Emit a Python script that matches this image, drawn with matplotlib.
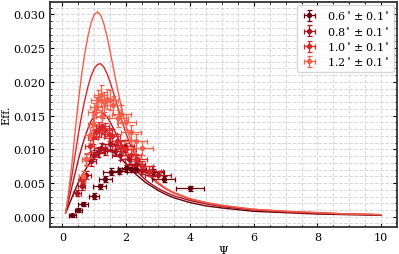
import matplotlib
matplotlib.use("Agg")
from matplotlib import pyplot as plt
from matplotlib.ticker import MultipleLocator

plt.rcParams['font.family'] = 'DejaVu Serif'
plt.rcParams['mathtext.fontset'] = 'dejavuserif'
plt.rcParams['font.size'] = 8

labels = [r"0.6$^\circ\pm0.1^\circ$", r"0.8$^\circ\pm0.1^\circ$",
          r"1.0$^\circ\pm0.1^\circ$", r"1.2$^\circ\pm0.1^\circ$"]
colors = ["#67000d", "#ad1420", "#d9282a", "#f4604c"]

# model curves
curve_x = [0.1, 0.15, 0.2, 0.3, 0.4, 0.5, 0.6, 0.7, 0.8, 0.9, 1.0, 1.1, 1.2, 1.3, 1.4,
           1.5, 1.6, 1.7, 1.8, 1.9, 2.0, 2.15, 2.3, 2.45, 2.6, 2.8, 3.0, 3.25, 3.5, 4.0,
           4.5, 5.0, 6.0, 7.0, 8.0, 9.0, 10.0]
curve_06 = [0.0006, 0.0011, 0.0017, 0.0029, 0.0040, 0.0051, 0.0060, 0.0068, 0.0076, 0.0082,
            0.0087, 0.0091, 0.0094, 0.0096, 0.0097, 0.0097, 0.0095, 0.0092, 0.0088, 0.0083,
            0.0078, 0.0070, 0.0063, 0.0057, 0.0051, 0.0045, 0.0039, 0.0033, 0.0028, 0.0021,
            0.0016, 0.0013, 0.0008, 0.0006, 0.0004, 0.0003, 0.0002]
curve_08 = [0.0006, 0.0015, 0.0025, 0.0045, 0.0065, 0.0085, 0.0102, 0.0118, 0.0131, 0.0142,
            0.0150, 0.0154, 0.0155, 0.0153, 0.0148, 0.0140, 0.0131, 0.0121, 0.0111, 0.0101,
            0.0092, 0.0080, 0.0070, 0.0062, 0.0055, 0.0048, 0.0042, 0.0036, 0.0031, 0.0024,
            0.0019, 0.0015, 0.0010, 0.0007, 0.0005, 0.0004, 0.0003]
curve_10 = [0.0006, 0.0019, 0.0033, 0.0062, 0.0093, 0.0123, 0.0150, 0.0173, 0.0193, 0.0209,
            0.0220, 0.0226, 0.0227, 0.0222, 0.0212, 0.0199, 0.0184, 0.0168, 0.0152, 0.0137,
            0.0123, 0.0104, 0.0089, 0.0077, 0.0067, 0.0057, 0.0049, 0.0041, 0.0035, 0.0026,
            0.0021, 0.0016, 0.0011, 0.0008, 0.0006, 0.0004, 0.0003]
curve_12 = [0.0006, 0.0022, 0.0040, 0.0080, 0.0128, 0.0172, 0.0210, 0.0242, 0.0268, 0.0288,
            0.0300, 0.0304, 0.0299, 0.0286, 0.0267, 0.0244, 0.0220, 0.0196, 0.0173, 0.0152,
            0.0134, 0.0112, 0.0095, 0.0082, 0.0071, 0.0060, 0.0051, 0.0042, 0.0036, 0.0027,
            0.0021, 0.0017, 0.0011, 0.0008, 0.0006, 0.0004, 0.0003]

# measured points
x_06 = [0.31, 0.5, 0.65, 0.99, 1.17, 1.34, 1.51, 1.78, 2.0, 2.16, 2.31, 2.83, 3.17, 4.0]
y_06 = [0.0002, 0.0010, 0.0019, 0.0031, 0.0045, 0.0056, 0.0067, 0.0068, 0.0072, 0.0071,
        0.0071, 0.0066, 0.0056, 0.0042]
xe_06 = [0.12, 0.12, 0.15, 0.15, 0.2, 0.2, 0.25, 0.25, 0.25, 0.3, 0.3, 0.35, 0.35, 0.45]
ye_06 = [0.0002, 0.0003, 0.0003, 0.0004, 0.0004, 0.0005, 0.0005, 0.0005, 0.0005, 0.0005,
         0.0005, 0.0005, 0.0005, 0.0004]

x_08 = [0.45, 0.6, 0.75, 0.9, 1.0, 1.1, 1.2, 1.35, 1.5, 1.65, 1.8, 1.95, 2.1, 2.3, 2.5, 2.8, 3.0]
y_08 = [0.0035, 0.0045, 0.0062, 0.0082, 0.0092, 0.0096, 0.0102, 0.0100, 0.0108, 0.0098,
        0.0092, 0.0105, 0.0085, 0.0078, 0.0070, 0.0068, 0.0062]
xe_08 = [0.12, 0.12, 0.15, 0.15, 0.15, 0.2, 0.2, 0.2, 0.25, 0.25, 0.25, 0.3, 0.3, 0.3, 0.35,
         0.35, 0.4]
ye_08 = [0.0004, 0.0005, 0.0006, 0.0007, 0.0007, 0.0008, 0.0008, 0.0008, 0.0009, 0.0008,
         0.0008, 0.0009, 0.0008, 0.0007, 0.0007, 0.0007, 0.0006]

x_10 = [0.6, 0.75, 0.85, 0.95, 1.05, 1.15, 1.25, 1.35, 1.45, 1.55, 1.7, 1.85, 2.0, 2.15,
        2.3, 2.5, 2.7]
y_10 = [0.0055, 0.0085, 0.0105, 0.0118, 0.0125, 0.0130, 0.0135, 0.0128, 0.0122, 0.0120,
        0.0112, 0.0105, 0.0100, 0.0092, 0.0085, 0.0075, 0.0068]
xe_10 = [0.12, 0.15, 0.15, 0.15, 0.2, 0.2, 0.2, 0.2, 0.25, 0.25, 0.25, 0.3, 0.3, 0.3, 0.35,
         0.35, 0.4]
ye_10 = [0.0006, 0.0008, 0.0009, 0.0010, 0.0010, 0.0011, 0.0011, 0.0011, 0.0010, 0.0010,
         0.0010, 0.0009, 0.0009, 0.0009, 0.0008, 0.0008, 0.0007]

x_12 = [0.65, 0.75, 0.85, 0.95, 1.0, 1.05, 1.1, 1.2, 1.25, 1.3, 1.4, 1.5, 1.6, 1.75, 1.85,
        2.0, 2.15, 2.3, 2.5]
y_12 = [0.0060, 0.0085, 0.0121, 0.0138, 0.0155, 0.0163, 0.0173, 0.0180, 0.0150, 0.0170,
        0.0175, 0.0173, 0.0165, 0.0146, 0.0152, 0.0141, 0.0125, 0.0112, 0.0102]
xe_12 = [0.12, 0.15, 0.15, 0.15, 0.2, 0.2, 0.2, 0.2, 0.2, 0.2, 0.25, 0.25, 0.25, 0.3, 0.3,
         0.3, 0.3, 0.35, 0.35]
ye_12 = [0.0008, 0.0010, 0.0012, 0.0013, 0.0014, 0.0015, 0.0015, 0.0016, 0.0014, 0.0015,
         0.0015, 0.0015, 0.0014, 0.0013, 0.0013, 0.0012, 0.0011, 0.0010, 0.0010]

fig, ax = plt.subplots(figsize=(3.99, 2.55), dpi=100)

curves = [curve_06, curve_08, curve_10, curve_12]
points = [(x_06, y_06, xe_06, ye_06), (x_08, y_08, xe_08, ye_08),
          (x_10, y_10, xe_10, ye_10), (x_12, y_12, xe_12, ye_12)]

for c, col in zip(curves, colors):
    ax.plot(curve_x, c, color=col, lw=1.0, zorder=2)

for (px, py, pxe, pye), col, lab in zip(points, colors, labels):
    ax.errorbar(px, py, xerr=pxe, yerr=pye, fmt='o', ms=2.8, color=col, ecolor=col,
                elinewidth=0.9, capsize=1.8, capthick=0.9, label=lab, zorder=3)

ax.xaxis.set_major_locator(MultipleLocator(2))
ax.xaxis.set_minor_locator(MultipleLocator(0.5))
ax.yaxis.set_major_locator(MultipleLocator(0.005))
ax.yaxis.set_minor_locator(MultipleLocator(0.001))
ax.tick_params(which='both', direction='in', top=True, right=True)
ax.tick_params(which='major', length=3)
ax.tick_params(which='minor', length=1.5)
ax.grid(which='both', ls='--', color='#d8d8d8', lw=0.7, zorder=0)
ax.set_axisbelow(True)
for s in ax.spines.values():
    s.set_linewidth(1.3)
    s.set_color('#333333')

ax.set_xlabel(r"$\Psi$", labelpad=1)
ax.set_ylabel("Eff.", labelpad=1)
ax.legend(loc='upper right', fontsize=8, frameon=True, fancybox=True,
          handletextpad=0.8, handlelength=1.5, labelspacing=0.3, borderaxespad=0.3)

fig.subplots_adjust(left=0.125, right=0.995, top=0.99, bottom=0.106)
fig.savefig("out.png", dpi=100)
